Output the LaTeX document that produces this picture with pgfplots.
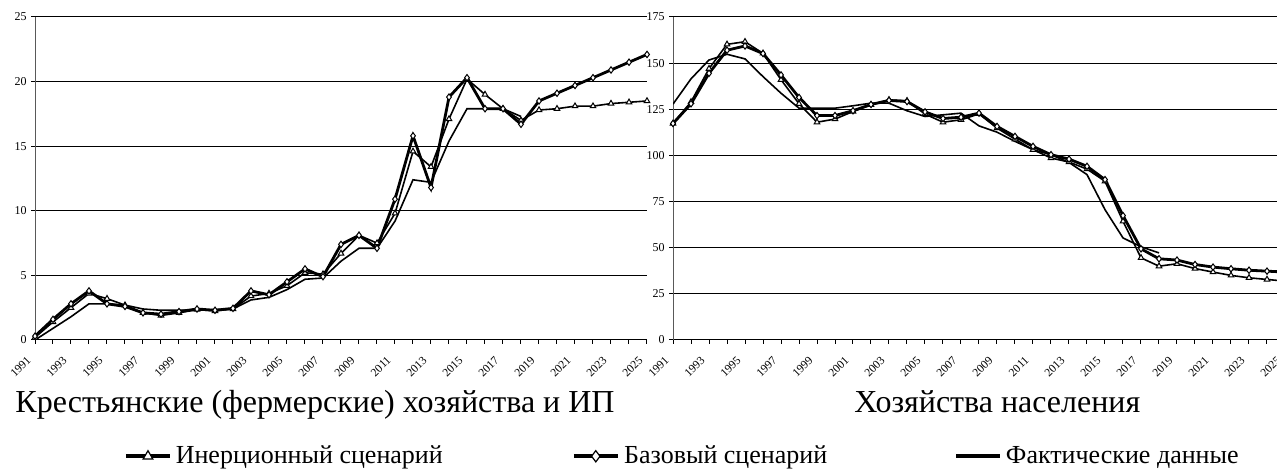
\documentclass[border=0pt]{standalone}
\usepackage{fontspec}
\setmainfont{Liberation Serif}
\usepackage{pgfplots}
\usepackage{pgfplotstable}
\pgfplotsset{compat=1.18}

\pgfplotstableread{
year inert base fact
1991 0.2 0.3 0
1992 1.4 1.6 0.9
1993 2.5 2.8 1.8
1994 3.6 3.8 2.8
1995 3.2 2.8 2.8
1996 2.7 2.6 2.7
1997 2.1 2.1 2.4
1998 1.9 2.0 2.3
1999 2.1 2.2 2.3
2000 2.35 2.4 2.3
2001 2.25 2.3 2.35
2002 2.4 2.45 2.4
2003 3.4 3.8 3.1
2004 3.6 3.5 3.3
2005 4.2 4.5 3.9
2006 5.2 5.5 4.7
2007 5.1 4.9 4.8
2008 6.7 7.4 6.1
2009 8.1 8.1 7.1
2010 7.5 7.1 7.1
2011 9.8 10.9 9.2
2012 14.6 15.8 12.4
2013 13.4 11.8 12.2
2014 17.1 18.8 15.4
2015 20.2 20.3 17.9
2016 19.0 17.9 17.9
2017 17.9 17.9 17.9
2018 17.0 16.7 17.3
2019 17.8 18.5 nan
2020 17.9 19.1 nan
2021 18.1 19.7 nan
2022 18.1 20.3 nan
2023 18.3 20.9 nan
2024 18.4 21.5 nan
2025 18.5 22.1 nan
}\farmdata

\pgfplotstableread{
year inert base fact
1991 117.3 117.3 127.8
1992 129 128 141.5
1993 147 144.5 151.7
1994 160.2 157 154.8
1995 161.6 159.3 152.3
1996 155.3 155.2 142.7
1997 141 143.6 133.7
1998 128 131.4 125.6
1999 118 121.6 125.6
2000 119.7 121.6 125.6
2001 123.8 124.2 126.9
2002 127.4 127.6 128.3
2003 130.1 129.8 128.3
2004 129.6 129.2 124.2
2005 122.4 123.6 121.1
2006 118 120 122
2007 119.3 120.7 122.9
2008 122.5 122.9 116
2009 114.8 115.7 112.6
2010 108.8 110.3 107.6
2011 103.1 104.9 103.1
2012 98.6 100.4 100.4
2013 96.4 98 96.2
2014 92.6 94.1 89.6
2015 86 86.9 70.6
2016 64.3 67.4 55.3
2017 44.5 49.4 50.5
2018 40 44 47.2
2019 41.3 43.3 nan
2020 38.7 40.9 nan
2021 36.8 39.5 nan
2022 35 38.6 nan
2023 33.7 37.8 nan
2024 32.8 37.3 nan
2025 31.9 36.8 nan
}\housedata

\pgfplotsset{
  common/.style={
    scale only axis, width=306pt, height=161.5pt, anchor=south west,
    xmin=1991, xmax=2025,
    axis x line*=bottom, axis y line*=left,
    axis line style={black, line width=0.5pt, -},
    y axis line style={black!65},
    ymajorgrids, grid style={black, line width=0.5pt},
    tick style={black, line width=0.5pt},
    major tick length=2pt, tick align=outside,
    xtick={1991,1992,...,2025},
    xticklabels={1991,,1993,,1995,,1997,,1999,,2001,,2003,,2005,,2007,,2009,,2011,,2013,,2015,,2017,,2019,,2021,,2023,,2025},
    xticklabel style={xshift=-4.5pt, yshift=-5.5pt, rotate=45, anchor=north east, inner sep=0pt, font=\fontsize{5.8}{6}\selectfont},
    yticklabel style={font=\fontsize{6}{7}\selectfont, inner sep=0pt, xshift=-2pt},
    /pgf/number format/assume math mode=true,
    xlabel style={font=\fontsize{16}{19}\selectfont, anchor=base},
    unbounded coords=discard,
    legend image code/.code={
      \draw[##1, line width=2pt, mark repeat=2, mark phase=2, mark size=2.8pt,
        mark options={fill=white, draw=black, line width=0.6pt, solid}]
        plot coordinates {(0pt,0pt) (11pt,0pt) (22pt,0pt)};
      \path (24.5pt,0pt);
    },
  },
  inertstyle/.style={black, line width=0.8pt, mark=triangle*, mark size=1.6pt,
    mark options={fill=white, draw=black, line width=0.5pt}},
  basestyle/.style={black, line width=1.4pt, mark=diamond*, mark size=1.6pt,
    mark options={fill=white, draw=black, line width=0.5pt}},
  factstyle/.style={black, line width=0.8pt, no marks},
}

\begin{document}
\begin{tikzpicture}
\useasboundingbox (0,0) rectangle (638.5pt,235pt);
\begin{axis}[common, at={(17.5pt,65pt)},
  ymin=0, ymax=25, ytick={0,5,...,25},
  xlabel={Крестьянские (фермерские) хозяйства и ИП},
  xlabel style={at={(axis description cs:0.4575,-0.226)}},
  legend columns=3,
  legend style={draw=none, fill=none, inner sep=0pt, outer sep=0pt,
    column sep=0pt, row sep=0pt,
    at={(axis description cs:0.1454,-0.360)}, anchor=west,
    font=\fontsize{13}{15}\selectfont, nodes={inner sep=0pt, outer sep=0pt}},
  legend cell align=left,
]
\addplot[inertstyle] table[x=year, y=inert]{\farmdata};
\addlegendentry{\makebox[198pt][l]{Инерционный сценарий}}
\addplot[basestyle] table[x=year, y=base]{\farmdata};
\addlegendentry{\makebox[165pt][l]{Базовый сценарий}}
\addplot[factstyle] table[x=year, y=fact]{\farmdata};
\addlegendentry{Фактические данные}
\end{axis}
\begin{axis}[common, at={(336.5pt,65pt)},
  ymin=0, ymax=175, ytick={0,25,...,175},
  xlabel={Хозяйства населения},
  xlabel style={at={(axis description cs:0.530,-0.226)}},
]
\addplot[inertstyle] table[x=year, y=inert]{\housedata};
\addplot[basestyle] table[x=year, y=base]{\housedata};
\addplot[factstyle] table[x=year, y=fact]{\housedata};
\end{axis}
\end{tikzpicture}
\end{document}
